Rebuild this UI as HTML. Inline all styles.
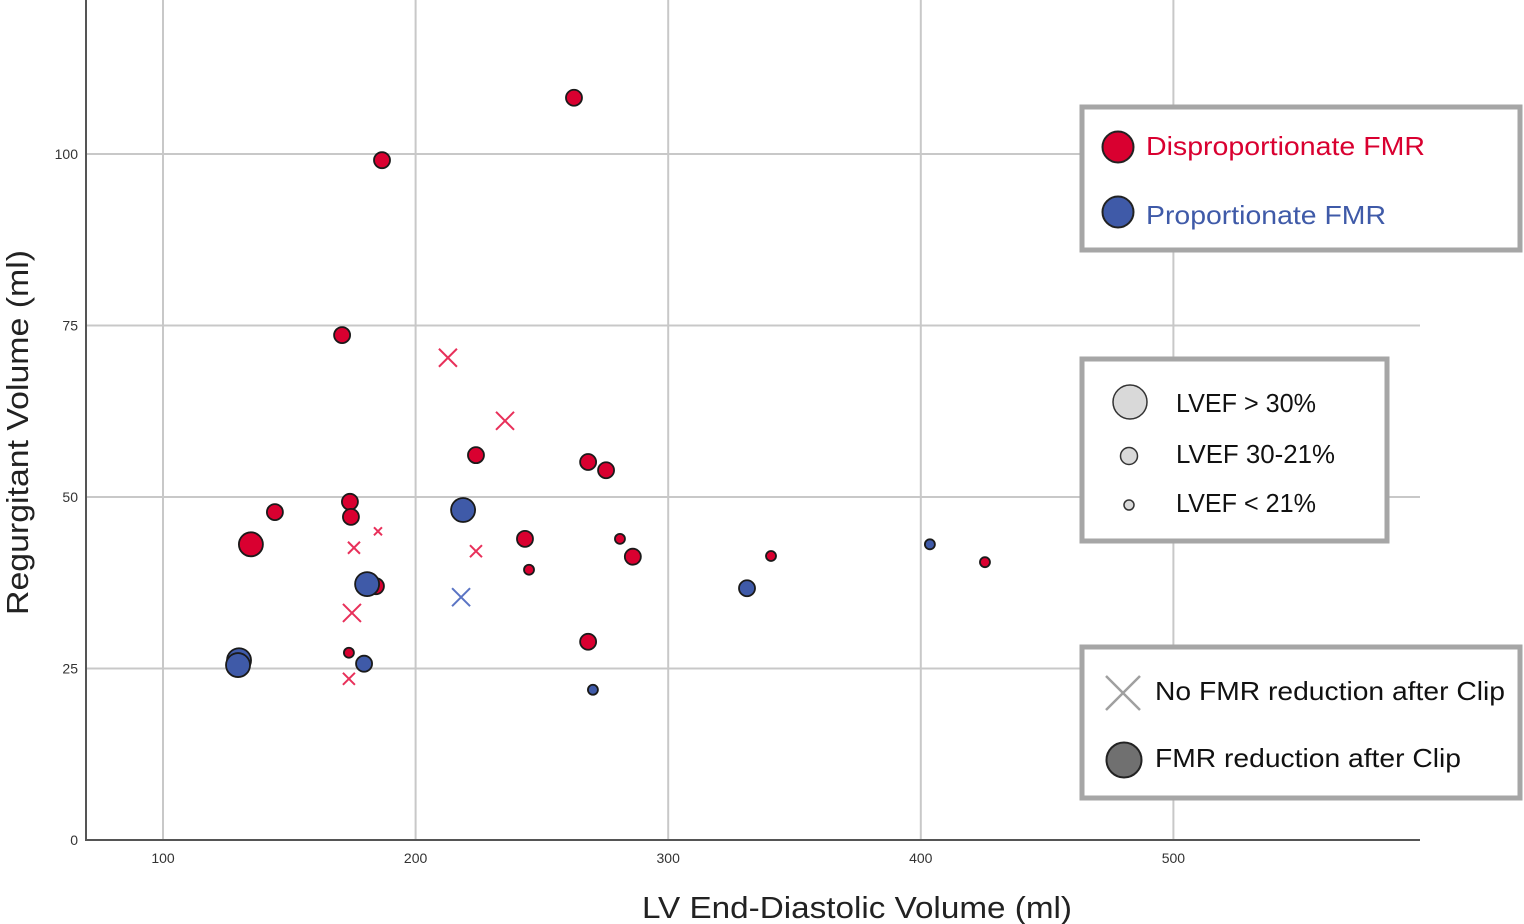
<!DOCTYPE html>
<html><head><meta charset="utf-8"><style>
html,body{margin:0;padding:0;background:#fff;}
svg{display:block;font-family:"Liberation Sans",sans-serif;}
</style></head><body>
<svg id="chart" width="1524" height="924" viewBox="0 0 1524 924">
<g id="grid"></g>
<g id="axes"></g>
<g id="marks"></g>
<text x="642" y="918" font-size="31" textLength="430" lengthAdjust="spacingAndGlyphs" fill="#222">LV End-Diastolic Volume (ml)</text>
<text transform="translate(28,615) rotate(-90)" font-size="31" textLength="365" lengthAdjust="spacingAndGlyphs" fill="#222">Regurgitant Volume (ml)</text>

<g>
<rect x="1082" y="107" width="438" height="143" fill="#fff" stroke="#a6a6a6" stroke-width="5"/>
<circle cx="1118" cy="147" r="15.5" fill="#d90030" stroke="#222" stroke-width="2"/>
<text x="1146" y="155" font-size="26" textLength="279" lengthAdjust="spacingAndGlyphs" fill="#d90030">Disproportionate FMR</text>
<circle cx="1118" cy="212" r="15.5" fill="#3f5aa8" stroke="#222" stroke-width="2"/>
<text x="1146" y="224" font-size="26" textLength="240" lengthAdjust="spacingAndGlyphs" fill="#3f5aa8">Proportionate FMR</text>
</g>
<g>
<rect x="1082" y="359" width="305" height="182" fill="#fff" stroke="#a6a6a6" stroke-width="5"/>
<circle cx="1130" cy="402" r="17" fill="#d9d9d9" stroke="#333" stroke-width="1.5"/>
<text x="1176" y="412" font-size="26" textLength="140" lengthAdjust="spacingAndGlyphs" fill="#111">LVEF &gt; 30%</text>
<circle cx="1129" cy="456" r="8.5" fill="#d9d9d9" stroke="#333" stroke-width="1.5"/>
<text x="1176" y="463" font-size="26" textLength="159" lengthAdjust="spacingAndGlyphs" fill="#111">LVEF 30-21%</text>
<circle cx="1129" cy="505" r="5" fill="#d9d9d9" stroke="#333" stroke-width="1.5"/>
<text x="1176" y="512" font-size="26" textLength="140" lengthAdjust="spacingAndGlyphs" fill="#111">LVEF &lt; 21%</text>
</g>
<g>
<rect x="1082" y="647" width="438" height="151" fill="#fff" stroke="#a6a6a6" stroke-width="5"/>
<path d="M1106 676 L1140 710 M1140 676 L1106 710" stroke="#a0a0a0" stroke-width="2.5"/>
<text x="1155" y="700" font-size="26" textLength="350" lengthAdjust="spacingAndGlyphs" fill="#111">No FMR reduction after Clip</text>
<circle cx="1124" cy="760" r="17.5" fill="#707070" stroke="#222" stroke-width="2"/>
<text x="1155" y="767" font-size="26" textLength="306" lengthAdjust="spacingAndGlyphs" fill="#111">FMR reduction after Clip</text>
</g>
</svg>
<script>
const xTicks=[100,200,300,400,500];
const yTicks=[0,25,50,75,100];
const edv=[262.7,186.7,170.9,223.9,268.3,275.4,144.3,174.0,174.4,134.8,243.3,280.9,286.0,244.9,340.7,425.4,184.3,173.6,268.3,
218.8,180.8,130.1,129.7,179.6,331.2,403.6,270.2,
212.8,235.4,185.1,175.6,223.9,174.8,173.6,218.0];
const rvol=[108.2,99.1,73.6,56.1,55.1,53.9,47.8,49.3,47.1,43.1,43.9,43.9,41.3,39.4,41.4,40.5,37.0,27.3,28.9,
48.1,37.3,26.2,25.5,25.7,36.7,43.1,21.9,
70.3,61.1,45.0,42.6,42.1,33.1,23.5,35.4];
const group=["D","D","D","D","D","D","D","D","D","D","D","D","D","D","D","D","D","D","D",
"P","P","P","P","P","P","P","P",
"D","D","D","D","D","D","D","P"];
const lvef=["M","M","M","M","M","M","M","M","M","L","M","S","M","S","S","S","M","S","M",
"L","L","L","L","M","M","S","S",
"L","L","S","M","M","L","M","L"];
const reduced=[1,1,1,1,1,1,1,1,1,1,1,1,1,1,1,1,1,1,1,
1,1,1,1,1,1,1,1,
0,0,0,0,0,0,0,0];

const NS="http://www.w3.org/2000/svg";
const x0=86,x1=1420,yb=840;
const sx=v=>163+(v-100)*2.526;
const sy=v=>yb-v*6.86;
function mk(t,a,p){const e=document.createElementNS(NS,t);for(const k in a)e.setAttribute(k,a[k]);p.appendChild(e);return e;}
const grid=document.getElementById('grid'),axes=document.getElementById('axes'),marks=document.getElementById('marks');
xTicks.forEach(t=>{
 const l=mk('line',{x1:sx(t),x2:sx(t),y1:0,y2:yb,stroke:'#c8c8c8','stroke-width':2},grid);
 
 
 const tx=mk('text',{x:sx(t),y:863,'font-size':14,'text-anchor':'middle',fill:'#333'},axes);
 tx.textContent=t;
 
 
});
yTicks.forEach(t=>{
 if(t>0){const l=mk('line',{x1:x0,x2:x1,y1:sy(t),y2:sy(t),stroke:'#c8c8c8','stroke-width':2},grid);
 
 }
 const tx=mk('text',{x:78,y:sy(t)+5,'font-size':14,'text-anchor':'end',fill:'#333'},axes);
 tx.textContent=t;
 
 
});
const ax=mk('path',{d:`M${x0} 0 L${x0} ${yb} L${x1} ${yb}`,stroke:'#555','stroke-width':2,fill:'none'},axes);



const rad={L:12,M:8,S:5}, crs={L:9,M:6,S:4};
const order=[...edv.keys()].sort((a,b)=>(reduced[a]-reduced[b])||((group[a]==="P")-(group[b]==="P")));
order.forEach(i=>{
 const cx=sx(edv[i]),cy=sy(rvol[i]);
 const col=group[i]==="D"?"#d90030":"#3f5aa8";
 if(reduced[i]){
  const c=mk('circle',{cx,cy,r:rad[lvef[i]],fill:col,stroke:'#1a1a1a','stroke-width':1.8},marks);
  
  
 }else{
  const s=crs[lvef[i]];
  const xcol=group[i]==="D"?"#e8305a":"#5a74c4";
  const p=mk('path',{d:`M${cx-s} ${cy-s} L${cx+s} ${cy+s} M${cx+s} ${cy-s} L${cx-s} ${cy+s}`,stroke:xcol,'stroke-width':2},marks);
  
  
 }
});
</script>
</body></html>
